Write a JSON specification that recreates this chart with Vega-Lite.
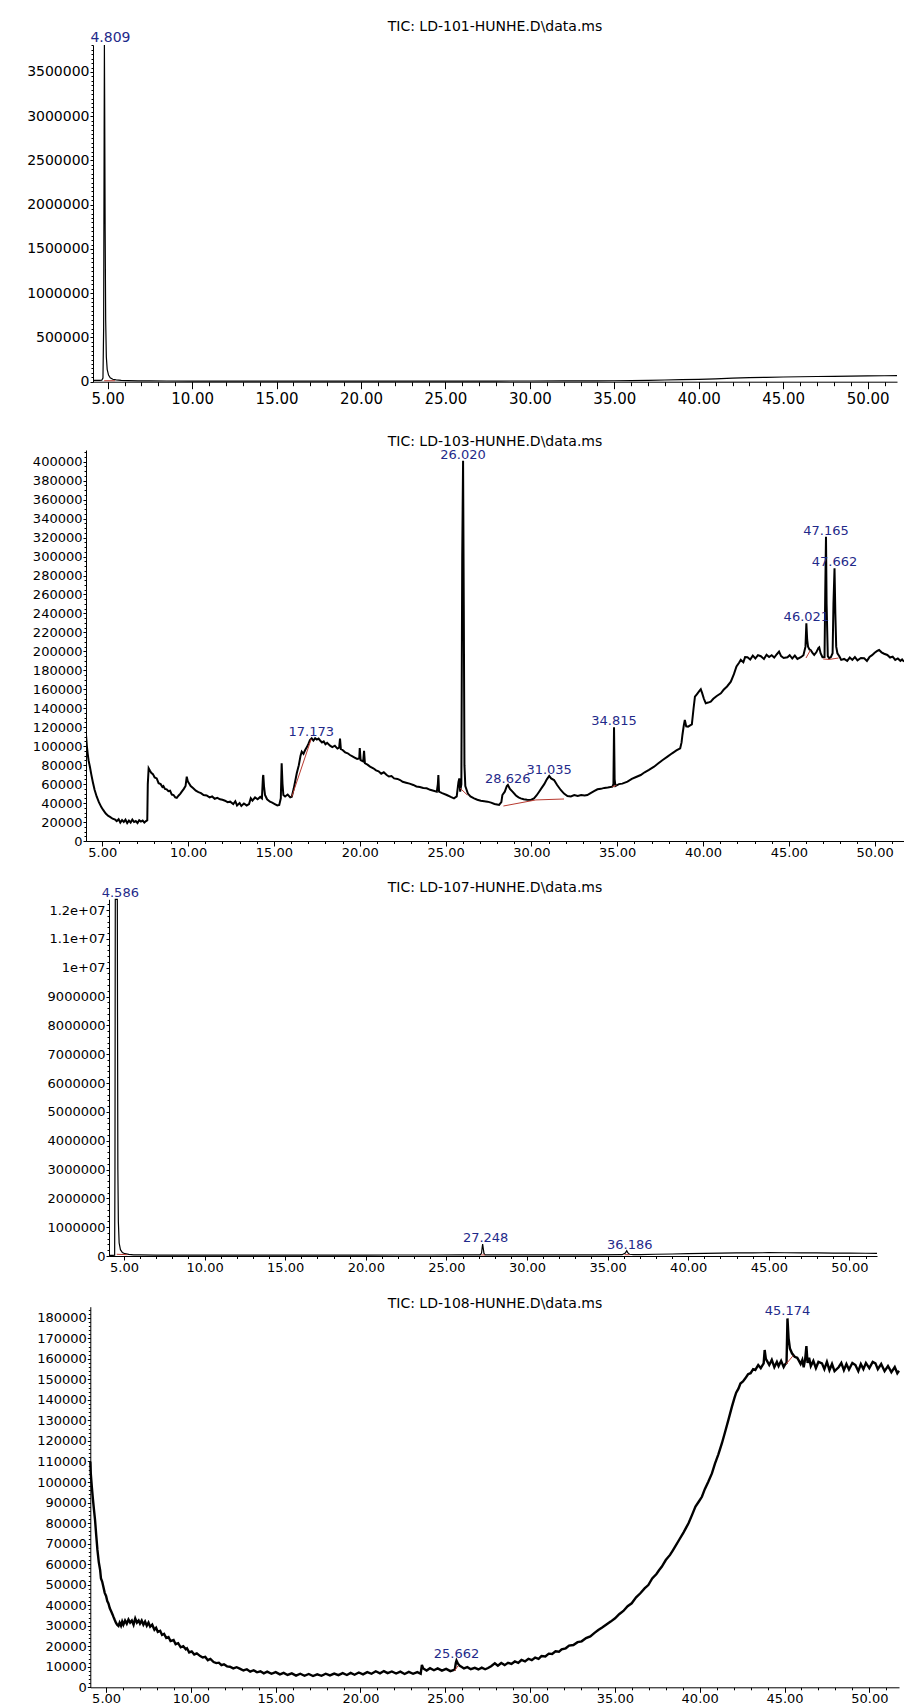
{
"$schema": "https://vega.github.io/schema/vega-lite/v6.json",
"padding": 0,
"spacing": 0,
"config": {
  "view": {"stroke": null},
  "font": "DejaVu Sans",
  "axis": {"grid": false, "domainColor": "black", "tickColor": "black", "labelColor": "black", "labelFont": "DejaVu Sans", "domainWidth": 1, "tickWidth": 1},
  "title": {"font": "DejaVu Sans", "fontWeight": "normal", "color": "black", "frame": "group", "anchor": "middle", "baseline": "middle", "fontSize": 14}
},
"datasets": {
  "tic101": [
    {"t":4.13,"v":15000},{"t":4.3,"v":14000},{"t":4.5,"v":15000},{"t":4.65,"v":16000},{"t":4.72,"v":40000},{"t":4.76,"v":600000},{"t":4.79,"v":2800000},{"t":4.805,"v":3805000},{"t":4.82,"v":3200000},{"t":4.85,"v":1700000},{"t":4.88,"v":700000},{"t":4.92,"v":280000},{"t":4.97,"v":140000},{"t":5.05,"v":75000},{"t":5.15,"v":45000},{"t":5.3,"v":28000},{"t":5.5,"v":20000},{"t":5.8,"v":15000},{"t":6.2,"v":12000},{"t":6.8,"v":10000},{"t":7.5,"v":9000},{"t":8.5,"v":8000},{"t":10,"v":7000},{"t":12,"v":6500},{"t":14,"v":6000},{"t":16,"v":6000},{"t":18,"v":6500},{"t":20,"v":6000},{"t":22,"v":6000},{"t":24,"v":6500},{"t":26,"v":7000},{"t":28,"v":7500},{"t":30,"v":8000},{"t":32,"v":9000},{"t":34,"v":10000},{"t":35,"v":11000},{"t":36,"v":13000},{"t":37,"v":16000},{"t":38,"v":19000},{"t":39,"v":23000},{"t":40,"v":27000},{"t":41,"v":33000},{"t":42,"v":40000},{"t":43,"v":46000},{"t":44,"v":50000},{"t":45,"v":53000},{"t":46,"v":56000},{"t":47,"v":59000},{"t":48,"v":61000},{"t":49,"v":63000},{"t":50,"v":65000},{"t":51,"v":67000},{"t":51.74,"v":68000}
  ],
  "pk101": [{"t":4.809,"v":3805000,"label":"4.809"}],
  "bl101": [{"t":4.79,"v":11000,"t2":5.43,"v2":11000}],
  "tic103": [
    {"t":4.05,"v":112000},{"t":4.1,"v":100000},{"t":4.15,"v":92000},{"t":4.2,"v":85000},{"t":4.28,"v":78000},{"t":4.36,"v":70000},{"t":4.45,"v":62000},{"t":4.55,"v":54000},{"t":4.67,"v":47000},{"t":4.8,"v":41000},{"t":4.95,"v":35500},{"t":5.06,"v":32500},{"t":5.2,"v":29000},{"t":5.35,"v":26500},{"t":5.45,"v":25500},{"t":5.6,"v":23500},{"t":5.75,"v":22500},{"t":5.84,"v":21000},{"t":5.95,"v":23000},{"t":6.05,"v":19500},{"t":6.15,"v":22000},{"t":6.25,"v":20000},{"t":6.35,"v":22500},{"t":6.45,"v":19000},{"t":6.55,"v":21500},{"t":6.65,"v":19500},{"t":6.75,"v":22500},{"t":6.85,"v":20000},{"t":6.95,"v":21000},{"t":7.05,"v":19000},{"t":7.15,"v":22000},{"t":7.25,"v":20500},{"t":7.35,"v":21500},{"t":7.45,"v":19500},{"t":7.55,"v":21000},{"t":7.62,"v":22000},{"t":7.65,"v":60000},{"t":7.7,"v":76700},{"t":7.78,"v":74000},{"t":7.85,"v":72000},{"t":7.95,"v":70500},{"t":8.05,"v":67000},{"t":8.17,"v":66000},{"t":8.28,"v":61000},{"t":8.4,"v":60000},{"t":8.5,"v":57000},{"t":8.56,"v":58000},{"t":8.65,"v":55000},{"t":8.75,"v":54500},{"t":8.85,"v":52500},{"t":8.95,"v":53000},{"t":9.05,"v":49000},{"t":9.15,"v":48500},{"t":9.25,"v":46000},{"t":9.34,"v":45500},{"t":9.45,"v":48000},{"t":9.55,"v":50000},{"t":9.63,"v":52000},{"t":9.75,"v":55000},{"t":9.85,"v":58000},{"t":9.92,"v":67800},{"t":9.98,"v":63000},{"t":10.05,"v":61000},{"t":10.15,"v":58000},{"t":10.3,"v":55600},{"t":10.45,"v":53000},{"t":10.6,"v":51500},{"t":10.75,"v":50500},{"t":10.9,"v":48500},{"t":11.08,"v":48000},{"t":11.25,"v":46000},{"t":11.4,"v":47000},{"t":11.55,"v":44500},{"t":11.7,"v":45500},{"t":11.86,"v":44000},{"t":12,"v":43500},{"t":12.15,"v":42500},{"t":12.3,"v":41000},{"t":12.45,"v":41500},{"t":12.63,"v":39000},{"t":12.75,"v":42000},{"t":12.85,"v":37500},{"t":13,"v":40000},{"t":13.1,"v":37000},{"t":13.25,"v":39500},{"t":13.41,"v":37500},{"t":13.55,"v":39000},{"t":13.65,"v":45000},{"t":13.75,"v":42500},{"t":13.9,"v":46000},{"t":14.05,"v":44000},{"t":14.2,"v":46500},{"t":14.3,"v":45000},{"t":14.36,"v":68000},{"t":14.38,"v":69600},{"t":14.42,"v":58000},{"t":14.48,"v":48500},{"t":14.6,"v":44000},{"t":14.77,"v":41500},{"t":14.9,"v":40500},{"t":15.05,"v":39000},{"t":15.2,"v":37500},{"t":15.31,"v":38000},{"t":15.4,"v":45000},{"t":15.45,"v":82000},{"t":15.5,"v":60000},{"t":15.55,"v":48500},{"t":15.65,"v":47000},{"t":15.8,"v":49000},{"t":15.95,"v":46000},{"t":16.04,"v":46700},{"t":16.15,"v":55000},{"t":16.25,"v":64000},{"t":16.33,"v":71400},{"t":16.45,"v":80000},{"t":16.55,"v":90000},{"t":16.62,"v":94200},{"t":16.72,"v":92000},{"t":16.82,"v":96000},{"t":16.92,"v":99000},{"t":17.02,"v":103000},{"t":17.1,"v":106500},{"t":17.2,"v":108300},{"t":17.3,"v":106000},{"t":17.4,"v":108500},{"t":17.5,"v":107000},{"t":17.6,"v":108000},{"t":17.69,"v":106000},{"t":17.8,"v":104000},{"t":17.9,"v":105000},{"t":18,"v":102000},{"t":18.1,"v":103500},{"t":18.27,"v":100500},{"t":18.4,"v":99000},{"t":18.55,"v":100500},{"t":18.7,"v":97500},{"t":18.8,"v":98500},{"t":18.85,"v":108000},{"t":18.9,"v":97000},{"t":19,"v":96000},{"t":19.15,"v":93500},{"t":19.3,"v":92500},{"t":19.43,"v":90700},{"t":19.55,"v":89500},{"t":19.7,"v":88000},{"t":19.85,"v":86500},{"t":19.97,"v":87000},{"t":20,"v":98000},{"t":20.05,"v":85400},{"t":20.2,"v":84000},{"t":20.25,"v":95000},{"t":20.3,"v":82000},{"t":20.45,"v":80500},{"t":20.6,"v":78500},{"t":20.79,"v":76700},{"t":20.95,"v":74500},{"t":21.1,"v":73500},{"t":21.25,"v":71000},{"t":21.4,"v":72500},{"t":21.57,"v":69600},{"t":21.7,"v":68000},{"t":21.85,"v":68500},{"t":22,"v":66000},{"t":22.2,"v":65500},{"t":22.35,"v":64300},{"t":22.5,"v":62500},{"t":22.7,"v":61500},{"t":22.9,"v":60500},{"t":23.12,"v":59100},{"t":23.3,"v":57500},{"t":23.5,"v":57000},{"t":23.7,"v":56000},{"t":23.9,"v":55600},{"t":24.1,"v":54000},{"t":24.3,"v":53000},{"t":24.49,"v":52000},{"t":24.55,"v":60000},{"t":24.58,"v":69600},{"t":24.62,"v":52000},{"t":24.8,"v":50500},{"t":25.07,"v":48500},{"t":25.3,"v":46500},{"t":25.49,"v":45000},{"t":25.65,"v":47000},{"t":25.75,"v":62000},{"t":25.8,"v":66000},{"t":25.85,"v":52000},{"t":25.92,"v":60000},{"t":25.97,"v":300000},{"t":26.02,"v":401000},{"t":26.06,"v":250000},{"t":26.1,"v":80000},{"t":26.15,"v":58000},{"t":26.3,"v":50000},{"t":26.45,"v":47000},{"t":26.66,"v":45000},{"t":26.85,"v":43500},{"t":27.05,"v":42500},{"t":27.25,"v":42000},{"t":27.44,"v":41500},{"t":27.65,"v":40500},{"t":27.85,"v":39000},{"t":28,"v":38500},{"t":28.12,"v":38000},{"t":28.25,"v":41000},{"t":28.31,"v":48500},{"t":28.45,"v":52000},{"t":28.57,"v":58000},{"t":28.63,"v":59100},{"t":28.75,"v":55000},{"t":28.9,"v":52000},{"t":29.1,"v":48000},{"t":29.25,"v":46000},{"t":29.38,"v":45000},{"t":29.55,"v":44000},{"t":29.75,"v":43500},{"t":29.97,"v":43300},{"t":30.15,"v":45000},{"t":30.3,"v":48000},{"t":30.45,"v":52000},{"t":30.6,"v":56000},{"t":30.75,"v":60000},{"t":30.9,"v":65000},{"t":31.04,"v":68600},{"t":31.15,"v":66000},{"t":31.32,"v":64300},{"t":31.5,"v":59000},{"t":31.71,"v":53800},{"t":31.9,"v":50000},{"t":32.1,"v":47500},{"t":32.3,"v":47000},{"t":32.5,"v":48500},{"t":32.7,"v":47500},{"t":32.9,"v":48500},{"t":33.1,"v":48000},{"t":33.26,"v":48500},{"t":33.45,"v":50500},{"t":33.65,"v":52500},{"t":33.85,"v":54500},{"t":34.05,"v":55000},{"t":34.25,"v":56000},{"t":34.45,"v":56500},{"t":34.72,"v":57300},{"t":34.78,"v":60000},{"t":34.815,"v":120000},{"t":34.85,"v":65000},{"t":34.9,"v":58000},{"t":35.1,"v":60000},{"t":35.3,"v":60500},{"t":35.6,"v":62600},{"t":35.85,"v":65500},{"t":36.1,"v":67500},{"t":36.37,"v":69600},{"t":36.6,"v":72500},{"t":36.85,"v":75000},{"t":37.15,"v":78400},{"t":37.4,"v":82000},{"t":37.65,"v":85500},{"t":37.93,"v":89000},{"t":38.2,"v":92500},{"t":38.45,"v":95500},{"t":38.67,"v":97800},{"t":38.75,"v":104000},{"t":38.8,"v":111800},{"t":38.88,"v":122000},{"t":38.94,"v":127600},{"t":39.02,"v":121000},{"t":39.13,"v":120600},{"t":39.25,"v":122000},{"t":39.35,"v":123000},{"t":39.45,"v":140000},{"t":39.53,"v":152200},{"t":39.65,"v":155000},{"t":39.8,"v":158500},{"t":39.87,"v":160000},{"t":39.95,"v":156000},{"t":40.05,"v":150000},{"t":40.16,"v":145300},{"t":40.3,"v":146000},{"t":40.45,"v":147000},{"t":40.6,"v":150000},{"t":40.8,"v":153000},{"t":41.04,"v":155800},{"t":41.2,"v":159500},{"t":41.4,"v":163000},{"t":41.62,"v":168000},{"t":41.8,"v":176000},{"t":41.95,"v":184000},{"t":42.1,"v":188000},{"t":42.2,"v":191000},{"t":42.35,"v":188500},{"t":42.45,"v":194000},{"t":42.59,"v":193800},{"t":42.75,"v":191500},{"t":42.9,"v":195500},{"t":43.05,"v":192500},{"t":43.2,"v":196000},{"t":43.37,"v":194900},{"t":43.55,"v":192000},{"t":43.7,"v":196500},{"t":43.85,"v":194000},{"t":44,"v":196000},{"t":44.15,"v":193500},{"t":44.3,"v":197000},{"t":44.43,"v":199700},{"t":44.55,"v":195000},{"t":44.7,"v":193000},{"t":44.92,"v":193800},{"t":45.05,"v":196000},{"t":45.2,"v":192500},{"t":45.35,"v":195500},{"t":45.5,"v":192000},{"t":45.7,"v":193800},{"t":45.85,"v":196000},{"t":45.97,"v":205000},{"t":46.021,"v":229600},{"t":46.07,"v":212000},{"t":46.12,"v":205000},{"t":46.2,"v":202000},{"t":46.27,"v":201500},{"t":46.38,"v":198500},{"t":46.48,"v":196200},{"t":46.6,"v":199000},{"t":46.72,"v":203500},{"t":46.77,"v":204300},{"t":46.85,"v":198000},{"t":46.96,"v":193800},{"t":47.08,"v":194000},{"t":47.12,"v":260000},{"t":47.165,"v":321000},{"t":47.2,"v":250000},{"t":47.27,"v":195000},{"t":47.35,"v":192700},{"t":47.45,"v":194000},{"t":47.55,"v":198000},{"t":47.6,"v":250000},{"t":47.662,"v":287700},{"t":47.71,"v":240000},{"t":47.76,"v":205000},{"t":47.83,"v":198000},{"t":47.95,"v":194500},{"t":48.05,"v":191000},{"t":48.22,"v":192000},{"t":48.4,"v":190000},{"t":48.55,"v":193500},{"t":48.7,"v":191000},{"t":48.85,"v":194000},{"t":49,"v":190500},{"t":49.2,"v":193000},{"t":49.39,"v":192700},{"t":49.55,"v":190000},{"t":49.7,"v":194000},{"t":49.85,"v":196000},{"t":50,"v":198500},{"t":50.15,"v":200500},{"t":50.26,"v":201500},{"t":50.4,"v":199000},{"t":50.55,"v":197500},{"t":50.74,"v":196200},{"t":50.9,"v":193500},{"t":51.05,"v":194500},{"t":51.2,"v":191000},{"t":51.35,"v":192500},{"t":51.5,"v":190000},{"t":51.6,"v":191500},{"t":51.71,"v":189100}
  ],
  "pk103": [
    {"t":17.173,"v":108300,"label":"17.173"},{"t":26.02,"v":401000,"label":"26.020"},{"t":28.626,"v":59100,"label":"28.626"},{"t":31.035,"v":68600,"label":"31.035"},{"t":34.815,"v":120000,"label":"34.815"},{"t":46.021,"v":229600,"label":"46.021"},{"t":47.165,"v":321000,"label":"47.165"},{"t":47.662,"v":287700,"label":"47.662"}
  ],
  "bl103": [
    {"t":16.04,"v":46700,"t2":17.17,"v2":107500},{"t":25.85,"v":55600,"t2":26.27,"v2":48500},{"t":28.37,"v":36900,"t2":30.26,"v2":43300},{"t":30.26,"v":43300,"t2":31.9,"v2":44300},{"t":34.72,"v":57300,"t2":34.95,"v2":58500},{"t":46.0,"v":193000,"t2":46.25,"v2":201000},{"t":47.0,"v":192000,"t2":47.35,"v2":191500},{"t":47.35,"v":191500,"t2":47.9,"v2":193000}
  ],
  "tic107": [
    {"t":4.07,"v":20000},{"t":4.3,"v":20000},{"t":4.42,"v":30000},{"t":4.44,"v":3000000},{"t":4.46,"v":12372000},{"t":4.586,"v":12372000},{"t":4.6,"v":8000000},{"t":4.62,"v":3000000},{"t":4.65,"v":1200000},{"t":4.7,"v":450000},{"t":4.78,"v":220000},{"t":4.9,"v":120000},{"t":5.05,"v":80000},{"t":5.3,"v":55000},{"t":5.6,"v":42000},{"t":6,"v":36000},{"t":7,"v":32000},{"t":8,"v":30000},{"t":10,"v":30000},{"t":12,"v":30000},{"t":14,"v":30000},{"t":16,"v":32000},{"t":18,"v":32000},{"t":20,"v":33000},{"t":22,"v":34000},{"t":24,"v":35000},{"t":26,"v":36000},{"t":27.1,"v":37000},{"t":27.18,"v":100000},{"t":27.22,"v":300000},{"t":27.248,"v":416000},{"t":27.28,"v":280000},{"t":27.33,"v":90000},{"t":27.4,"v":42000},{"t":28,"v":38000},{"t":30,"v":38000},{"t":32,"v":40000},{"t":34,"v":42000},{"t":35.9,"v":45000},{"t":36.1,"v":100000},{"t":36.186,"v":184000},{"t":36.25,"v":120000},{"t":36.35,"v":60000},{"t":36.6,"v":50000},{"t":37,"v":50000},{"t":38,"v":60000},{"t":39,"v":70000},{"t":40,"v":80000},{"t":41,"v":90000},{"t":42,"v":100000},{"t":43,"v":105000},{"t":44,"v":110000},{"t":45,"v":115000},{"t":46,"v":112000},{"t":47,"v":108000},{"t":48,"v":105000},{"t":49,"v":100000},{"t":50,"v":98000},{"t":51,"v":95000},{"t":51.71,"v":94000}
  ],
  "pk107": [{"t":4.586,"v":12372000,"label":"4.586"},{"t":27.248,"v":416000,"label":"27.248"},{"t":36.186,"v":184000,"label":"36.186"}],
  "bl107": [{"t":4.55,"v":60000,"t2":5.2,"v2":45000},{"t":27.15,"v":37000,"t2":27.4,"v2":37000},{"t":36.05,"v":45000,"t2":36.35,"v2":45000}],
  "tic108": [
    {"t":4.07,"v":110000},{"t":4.1,"v":104000},{"t":4.16,"v":97700},{"t":4.22,"v":92000},{"t":4.28,"v":87000},{"t":4.35,"v":81500},{"t":4.42,"v":74000},{"t":4.49,"v":66900},{"t":4.57,"v":61000},{"t":4.65,"v":57100},{"t":4.7,"v":53000},{"t":4.77,"v":51500},{"t":4.84,"v":49000},{"t":4.92,"v":46000},{"t":5,"v":44500},{"t":5.07,"v":42000},{"t":5.14,"v":40900},{"t":5.22,"v":38500},{"t":5.3,"v":37000},{"t":5.38,"v":35500},{"t":5.43,"v":34400},{"t":5.5,"v":33000},{"t":5.58,"v":31500},{"t":5.65,"v":30500},{"t":5.73,"v":29900},{"t":5.8,"v":31500},{"t":5.88,"v":30000},{"t":5.95,"v":32000},{"t":6.02,"v":30500},{"t":6.12,"v":32500},{"t":6.22,"v":31000},{"t":6.32,"v":33000},{"t":6.42,"v":31500},{"t":6.52,"v":32500},{"t":6.62,"v":30500},{"t":6.72,"v":33500},{"t":6.82,"v":31500},{"t":6.92,"v":32500},{"t":7,"v":31000},{"t":7.1,"v":32500},{"t":7.2,"v":30500},{"t":7.3,"v":32000},{"t":7.4,"v":30000},{"t":7.5,"v":31500},{"t":7.6,"v":29500},{"t":7.72,"v":30500},{"t":7.85,"v":28000},{"t":7.95,"v":29000},{"t":8.05,"v":27000},{"t":8.19,"v":27500},{"t":8.3,"v":25500},{"t":8.42,"v":26000},{"t":8.55,"v":24000},{"t":8.68,"v":24500},{"t":8.8,"v":22500},{"t":8.98,"v":23000},{"t":9.1,"v":21000},{"t":9.25,"v":21500},{"t":9.4,"v":19500},{"t":9.55,"v":20000},{"t":9.7,"v":18500},{"t":9.77,"v":19000},{"t":9.9,"v":17000},{"t":10.05,"v":17500},{"t":10.2,"v":16000},{"t":10.35,"v":16500},{"t":10.55,"v":15200},{"t":10.7,"v":14500},{"t":10.85,"v":14800},{"t":11,"v":13200},{"t":11.15,"v":13800},{"t":11.34,"v":12300},{"t":11.5,"v":11800},{"t":11.65,"v":12000},{"t":11.8,"v":10800},{"t":11.95,"v":11200},{"t":12.13,"v":10200},{"t":12.3,"v":10000},{"t":12.5,"v":9200},{"t":12.7,"v":9800},{"t":12.91,"v":9000},{"t":13.1,"v":8200},{"t":13.3,"v":8800},{"t":13.5,"v":7600},{"t":13.7,"v":8300},{"t":13.9,"v":7300},{"t":14.1,"v":7800},{"t":14.3,"v":6800},{"t":14.5,"v":7600},{"t":14.75,"v":6600},{"t":15,"v":7400},{"t":15.25,"v":6300},{"t":15.47,"v":7000},{"t":15.7,"v":6000},{"t":15.95,"v":6800},{"t":16.2,"v":5700},{"t":16.45,"v":6600},{"t":16.7,"v":5600},{"t":16.95,"v":6500},{"t":17.2,"v":5500},{"t":17.45,"v":6300},{"t":17.7,"v":5600},{"t":17.95,"v":6600},{"t":18.2,"v":5800},{"t":18.45,"v":6700},{"t":18.7,"v":5900},{"t":18.95,"v":6900},{"t":19.2,"v":6000},{"t":19.42,"v":7000},{"t":19.65,"v":6100},{"t":19.9,"v":7200},{"t":20.15,"v":6300},{"t":20.4,"v":7400},{"t":20.65,"v":6600},{"t":20.9,"v":7800},{"t":21.15,"v":6800},{"t":21.38,"v":7900},{"t":21.6,"v":6900},{"t":21.85,"v":7700},{"t":22.1,"v":6700},{"t":22.35,"v":7600},{"t":22.6,"v":6500},{"t":22.85,"v":7500},{"t":23.1,"v":6600},{"t":23.35,"v":7400},{"t":23.55,"v":6600},{"t":23.62,"v":10900},{"t":23.7,"v":9200},{"t":23.9,"v":8200},{"t":24.1,"v":9300},{"t":24.33,"v":8300},{"t":24.55,"v":9200},{"t":24.8,"v":8100},{"t":25.05,"v":9000},{"t":25.3,"v":7900},{"t":25.56,"v":8600},{"t":25.62,"v":11800},{"t":25.662,"v":13000},{"t":25.75,"v":11500},{"t":25.85,"v":10500},{"t":25.95,"v":10000},{"t":26.1,"v":9200},{"t":26.3,"v":9800},{"t":26.5,"v":8800},{"t":26.74,"v":9500},{"t":26.95,"v":8700},{"t":27.15,"v":9600},{"t":27.35,"v":8800},{"t":27.52,"v":9400},{"t":27.7,"v":10300},{"t":27.92,"v":11700},{"t":28.1,"v":10500},{"t":28.3,"v":11800},{"t":28.5,"v":10800},{"t":28.7,"v":11900},{"t":28.9,"v":11400},{"t":29.1,"v":12600},{"t":29.3,"v":11900},{"t":29.49,"v":13300},{"t":29.7,"v":12600},{"t":29.9,"v":13900},{"t":30.1,"v":13200},{"t":30.3,"v":14500},{"t":30.5,"v":13900},{"t":30.67,"v":15200},{"t":30.9,"v":15000},{"t":31.1,"v":16400},{"t":31.3,"v":16200},{"t":31.5,"v":17500},{"t":31.7,"v":17300},{"t":31.86,"v":18500},{"t":32.1,"v":19000},{"t":32.3,"v":20300},{"t":32.55,"v":20600},{"t":32.8,"v":22000},{"t":33.04,"v":22400},{"t":33.3,"v":24000},{"t":33.55,"v":24800},{"t":33.8,"v":26500},{"t":34.02,"v":27900},{"t":34.25,"v":29100},{"t":34.5,"v":30600},{"t":34.75,"v":32000},{"t":35.01,"v":33600},{"t":35.25,"v":35600},{"t":35.5,"v":37200},{"t":35.75,"v":39500},{"t":35.99,"v":40900},{"t":36.25,"v":43800},{"t":36.5,"v":45800},{"t":36.75,"v":48200},{"t":36.97,"v":49800},{"t":37.2,"v":53000},{"t":37.45,"v":55200},{"t":37.6,"v":57000},{"t":37.76,"v":58700},{"t":38,"v":62000},{"t":38.25,"v":64500},{"t":38.4,"v":66500},{"t":38.55,"v":68500},{"t":38.8,"v":72000},{"t":39.05,"v":75500},{"t":39.2,"v":77800},{"t":39.34,"v":79900},{"t":39.55,"v":84000},{"t":39.75,"v":88000},{"t":39.95,"v":90500},{"t":40.13,"v":92800},{"t":40.3,"v":96500},{"t":40.5,"v":100000},{"t":40.72,"v":104200},{"t":40.9,"v":109000},{"t":41.1,"v":113500},{"t":41.31,"v":118900},{"t":41.5,"v":124500},{"t":41.7,"v":130500},{"t":41.9,"v":136700},{"t":42.05,"v":141000},{"t":42.15,"v":143500},{"t":42.29,"v":145600},{"t":42.4,"v":148000},{"t":42.55,"v":149000},{"t":42.69,"v":150500},{"t":42.85,"v":152500},{"t":43,"v":153000},{"t":43.15,"v":155000},{"t":43.28,"v":154600},{"t":43.45,"v":157000},{"t":43.6,"v":155500},{"t":43.77,"v":157800},{"t":43.83,"v":164300},{"t":43.9,"v":160000},{"t":44,"v":158500},{"t":44.1,"v":157000},{"t":44.25,"v":159500},{"t":44.4,"v":156000},{"t":44.55,"v":158500},{"t":44.65,"v":156500},{"t":44.8,"v":159000},{"t":44.95,"v":156000},{"t":45.05,"v":157500},{"t":45.12,"v":158000},{"t":45.174,"v":179700},{"t":45.24,"v":170000},{"t":45.32,"v":165000},{"t":45.44,"v":162700},{"t":45.6,"v":161000},{"t":45.75,"v":160500},{"t":45.83,"v":159400},{"t":45.95,"v":157500},{"t":46.05,"v":159500},{"t":46.13,"v":155900},{"t":46.22,"v":160000},{"t":46.29,"v":166200},{"t":46.36,"v":158000},{"t":46.45,"v":160500},{"t":46.55,"v":156500},{"t":46.7,"v":159000},{"t":46.85,"v":155500},{"t":47,"v":158500},{"t":47.21,"v":157800},{"t":47.35,"v":155000},{"t":47.5,"v":158500},{"t":47.65,"v":154500},{"t":47.8,"v":157500},{"t":47.95,"v":154000},{"t":48.19,"v":155900},{"t":48.35,"v":158000},{"t":48.5,"v":154500},{"t":48.65,"v":157500},{"t":48.8,"v":154800},{"t":49,"v":158000},{"t":49.18,"v":157000},{"t":49.35,"v":154000},{"t":49.5,"v":157500},{"t":49.65,"v":155000},{"t":49.8,"v":158000},{"t":50,"v":155500},{"t":50.2,"v":158500},{"t":50.36,"v":157800},{"t":50.5,"v":155000},{"t":50.7,"v":157500},{"t":50.9,"v":154000},{"t":51.1,"v":156500},{"t":51.3,"v":153500},{"t":51.5,"v":156000},{"t":51.65,"v":153000},{"t":51.75,"v":154200}
  ],
  "pk108": [{"t":25.662,"v":13000,"label":"25.662"},{"t":45.174,"v":179700,"label":"45.174"}],
  "bl108": [{"t":25.55,"v":8000,"t2":25.75,"v2":10500},{"t":45.1,"v":157500,"t2":45.5,"v2":161500}]
},
"vconcat": [
  {
    "width": 818, "height": 420,
    "title": {"text": "TIC: LD-101-HUNHE.D\\data.ms", "offset": -34},
    "layer": [
      {"data": {"name": "tic101"}, "mark": {"type": "line", "color": "black", "strokeWidth": 1.2, "clip": true},
       "encoding": {
         "x": {"field": "t", "type": "quantitative", "scale": {"domain": [4.13, 51.74], "range": [7, 811], "nice": false, "zero": false},
               "axis": {"orient": "bottom", "offset": -38.3, "values": [5,10,15,20,25,30,35,40,45,50], "format": ".2f", "tickSize": 7, "labelPadding": 3, "labelFontSize": 15, "labelFlush": false, "labelOverlap": false, "title": null}},
         "y": {"field": "v", "type": "quantitative", "scale": {"domain": [0, 3805000], "range": [381.7, 45], "nice": false, "zero": false},
               "axis": {"orient": "left", "offset": -7, "values": [0,500000,1000000,1500000,2000000,2500000,3000000,3500000], "format": "d", "tickSize": 3, "labelPadding": 1, "labelFontSize": 14, "labelOverlap": false, "title": null}}
       }},
      {"data": {"name": "bl101"}, "mark": {"type": "rule", "color": "#b83a30", "strokeWidth": 1},
       "encoding": {
         "x": {"field": "t", "type": "quantitative", "scale": {"domain": [4.13, 51.74], "range": [7, 811], "nice": false, "zero": false},
               "axis": {"orient": "bottom", "offset": -38.3, "tickCount": 48, "labels": false, "domain": false, "tickSize": 4, "title": null}},
         "y": {"field": "v", "type": "quantitative", "scale": {"domain": [0, 3805000], "range": [381.7, 45], "nice": false, "zero": false},
               "axis": {"orient": "left", "offset": -7, "tickCount": 76, "labels": false, "domain": false, "tickSize": 2, "title": null}},
         "x2": {"field": "t2"}, "y2": {"field": "v2"}
       }},
      {"data": {"name": "pk101"}, "mark": {"type": "text", "color": "#1f2a8a", "fontSize": 14, "dy": -7, "dx": 6, "baseline": "middle"},
       "encoding": {
         "x": {"field": "t", "type": "quantitative", "scale": {"domain": [4.13, 51.74], "range": [7, 811], "nice": false, "zero": false}, "axis": null},
         "y": {"field": "v", "type": "quantitative", "scale": {"domain": [0, 3805000], "range": [381.7, 45], "nice": false, "zero": false}, "axis": null},
         "text": {"field": "label"}
       }}
    ],
    "resolve": {"axis": {"x": "independent", "y": "independent"}}
  },
  {
    "width": 818, "height": 450,
    "title": {"text": "TIC: LD-103-HUNHE.D\\data.ms", "offset": -29},
    "layer": [
      {"data": {"name": "tic103"}, "mark": {"type": "line", "color": "black", "strokeWidth": 2, "clip": true},
       "encoding": {
         "x": {"field": "t", "type": "quantitative", "scale": {"domain": [4.05, 51.71], "range": [0, 818], "nice": false, "zero": false},
               "axis": {"orient": "bottom", "offset": -29, "values": [5,10,15,20,25,30,35,40,45,50], "format": ".2f", "tickSize": 5, "labelPadding": 0, "labelFontSize": 13, "labelFlush": false, "labelOverlap": false, "title": null}},
         "y": {"field": "v", "type": "quantitative", "scale": {"domain": [0, 412400], "range": [421, 30], "nice": false, "zero": false},
               "axis": {"orient": "left", "offset": 0, "minExtent": 86, "values": [0,20000,40000,60000,80000,100000,120000,140000,160000,180000,200000,220000,240000,260000,280000,300000,320000,340000,360000,380000,400000], "format": "d", "tickSize": 3, "labelPadding": 1, "labelFontSize": 13, "labelOverlap": false, "title": null}}
       }},
      {"data": {"name": "bl103"}, "mark": {"type": "rule", "color": "#b83a30", "strokeWidth": 1},
       "encoding": {
         "x": {"field": "t", "type": "quantitative", "scale": {"domain": [4.05, 51.71], "range": [0, 818], "nice": false, "zero": false},
               "axis": {"orient": "bottom", "offset": -29, "tickCount": 48, "labels": false, "domain": false, "tickSize": 2.5, "title": null}},
         "y": {"field": "v", "type": "quantitative", "scale": {"domain": [0, 412400], "range": [421, 30], "nice": false, "zero": false},
               "axis": {"orient": "left", "offset": 0, "tickCount": 82, "labels": false, "domain": false, "tickSize": 2, "title": null}},
         "x2": {"field": "t2"}, "y2": {"field": "v2"}
       }},
      {"data": {"name": "pk103"}, "mark": {"type": "text", "color": "#1f2a8a", "fontSize": 13, "dy": -6, "baseline": "middle"},
       "encoding": {
         "x": {"field": "t", "type": "quantitative", "scale": {"domain": [4.05, 51.71], "range": [0, 818], "nice": false, "zero": false}, "axis": null},
         "y": {"field": "v", "type": "quantitative", "scale": {"domain": [0, 412400], "range": [421, 30], "nice": false, "zero": false}, "axis": null},
         "text": {"field": "label"}
       }}
    ],
    "resolve": {"axis": {"x": "independent", "y": "independent"}}
  },
  {
    "width": 818, "height": 415,
    "title": {"text": "TIC: LD-107-HUNHE.D\\data.ms", "offset": -25},
    "layer": [
      {"data": {"name": "tic107"}, "mark": {"type": "line", "color": "black", "strokeWidth": 1.2, "clip": true},
       "encoding": {
         "x": {"field": "t", "type": "quantitative", "scale": {"domain": [4.07, 51.71], "range": [23, 791], "nice": false, "zero": false},
               "axis": {"orient": "bottom", "offset": -29, "values": [5,10,15,20,25,30,35,40,45,50], "format": ".2f", "tickSize": 4, "labelPadding": 1, "labelFontSize": 13, "labelFlush": false, "labelOverlap": false, "title": null}},
         "y": {"field": "v", "type": "quantitative", "scale": {"domain": [0, 12372000], "range": [386, 29.3], "nice": false, "zero": false},
               "axis": {"orient": "left", "offset": -23, "values": [0,1000000,2000000,3000000,4000000,5000000,6000000,7000000,8000000,9000000,10000000,11000000,12000000], "labelExpr": "datum.value >= 10000000 ? (datum.value == 10000000 ? '1e+07' : format(datum.value / 10000000, '.1f') + 'e+07') : format(datum.value, 'd')", "tickSize": 3, "labelPadding": 1, "labelFontSize": 13, "labelOverlap": false, "title": null}}
       }},
      {"data": {"name": "bl107"}, "mark": {"type": "rule", "color": "#b83a30", "strokeWidth": 1},
       "encoding": {
         "x": {"field": "t", "type": "quantitative", "scale": {"domain": [4.07, 51.71], "range": [23, 791], "nice": false, "zero": false},
               "axis": {"orient": "bottom", "offset": -29, "tickCount": 48, "labels": false, "domain": false, "tickSize": 2.5, "title": null}},
         "y": {"field": "v", "type": "quantitative", "scale": {"domain": [0, 12372000], "range": [386, 29.3], "nice": false, "zero": false},
               "axis": {"orient": "left", "offset": -23, "tickCount": 62, "labels": false, "domain": false, "tickSize": 2, "title": null}},
         "x2": {"field": "t2"}, "y2": {"field": "v2"}
       }},
      {"data": {"name": "pk107"}, "mark": {"type": "text", "color": "#1f2a8a", "fontSize": 13, "dy": -6, "dx": 3, "baseline": "middle"},
       "encoding": {
         "x": {"field": "t", "type": "quantitative", "scale": {"domain": [4.07, 51.71], "range": [23, 791], "nice": false, "zero": false}, "axis": null},
         "y": {"field": "v", "type": "quantitative", "scale": {"domain": [0, 12372000], "range": [386, 29.3], "nice": false, "zero": false}, "axis": null},
         "text": {"field": "label"}
       }}
    ],
    "resolve": {"axis": {"x": "independent", "y": "independent"}}
  },
  {
    "width": 818, "height": 421,
    "title": {"text": "TIC: LD-108-HUNHE.D\\data.ms", "offset": -25.7},
    "layer": [
      {"data": {"name": "tic108"}, "mark": {"type": "line", "color": "black", "strokeWidth": 2.4, "clip": true},
       "encoding": {
         "x": {"field": "t", "type": "quantitative", "scale": {"domain": [4.07, 51.75], "range": [4.3, 813], "nice": false, "zero": false},
               "axis": {"orient": "bottom", "offset": -18.7, "values": [5,10,15,20,25,30,35,40,45,50], "format": ".2f", "tickSize": 5, "labelPadding": 0, "labelFontSize": 13, "labelFlush": false, "labelOverlap": false, "title": null}},
         "y": {"field": "v", "type": "quantitative", "scale": {"domain": [0, 185400], "range": [402.3, 21.7], "nice": false, "zero": false},
               "axis": {"orient": "left", "offset": -4.3, "values": [0,10000,20000,30000,40000,50000,60000,70000,80000,90000,100000,110000,120000,130000,140000,150000,160000,170000,180000], "format": "d", "tickSize": 3, "labelPadding": 1, "labelFontSize": 13, "labelOverlap": false, "title": null}}
       }},
      {"data": {"name": "bl108"}, "mark": {"type": "rule", "color": "#b83a30", "strokeWidth": 1},
       "encoding": {
         "x": {"field": "t", "type": "quantitative", "scale": {"domain": [4.07, 51.75], "range": [4.3, 813], "nice": false, "zero": false},
               "axis": {"orient": "bottom", "offset": -18.7, "tickCount": 48, "labels": false, "domain": false, "tickSize": 2.5, "title": null}},
         "y": {"field": "v", "type": "quantitative", "scale": {"domain": [0, 185400], "range": [402.3, 21.7], "nice": false, "zero": false},
               "axis": {"orient": "left", "offset": -4.3, "tickCount": 93, "labels": false, "domain": false, "tickSize": 2, "title": null}},
         "x2": {"field": "t2"}, "y2": {"field": "v2"}
       }},
      {"data": {"name": "pk108"}, "mark": {"type": "text", "color": "#1f2a8a", "fontSize": 13, "dy": -7, "baseline": "middle"},
       "encoding": {
         "x": {"field": "t", "type": "quantitative", "scale": {"domain": [4.07, 51.75], "range": [4.3, 813], "nice": false, "zero": false}, "axis": null},
         "y": {"field": "v", "type": "quantitative", "scale": {"domain": [0, 185400], "range": [402.3, 21.7], "nice": false, "zero": false}, "axis": null},
         "text": {"field": "label"}
       }}
    ],
    "resolve": {"axis": {"x": "independent", "y": "independent"}}
  }
]
}
